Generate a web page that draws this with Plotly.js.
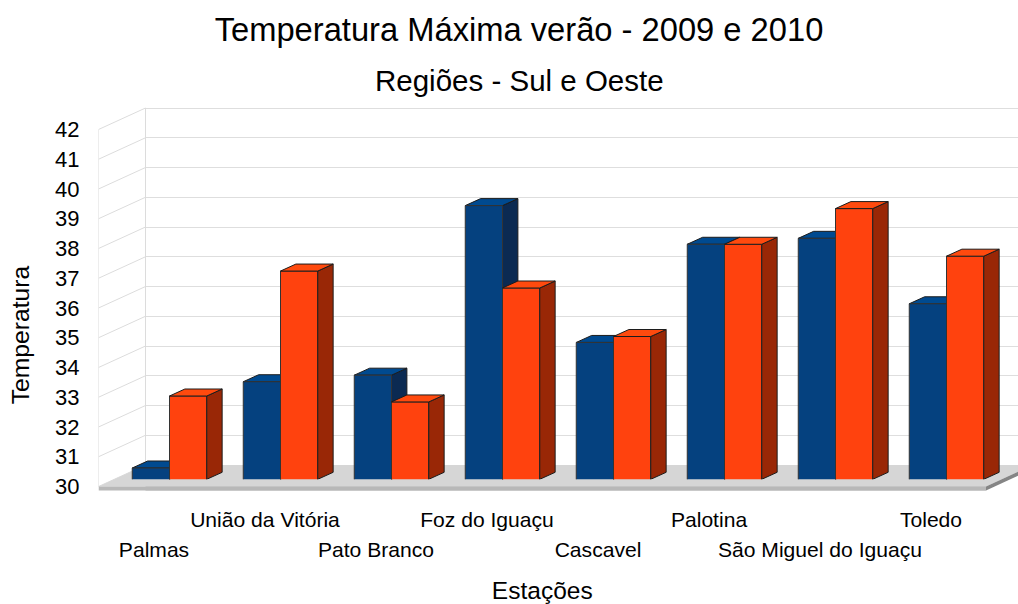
<!DOCTYPE html>
<html><head><meta charset="utf-8">
<script src="https://cdn.plot.ly/plotly-3.0.1.min.js"></script>
<style>html,body{margin:0;padding:0;background:#fff}#c{width:1018px;height:604px}</style>
</head><body><div id="c"></div>
<script>
const categories = ['Palmas','União da Vitória','Pato Branco','Foz do Iguaçu','Cascavel','Palotina','São Miguel do Iguaçu','Toledo'];
const values2009 = [30.38,33.28,33.5,39.2,34.6,37.9,38.1,35.9];
const values2010 = [32.8,37.0,32.6,36.43,34.8,37.9,39.1,37.5];
const yTicks = [30,31,32,33,34,35,36,37,38,39,40,41,42];

const W=1018,H=604;
const pxU=111, pyU=29.75;           // pixels per category / per degree
const fx=v=>v/W, fy=v=>1-v/H;
const idx=categories.map((_,i)=>i);
const lowerRow=idx.filter(i=>i%2===0), upperRow=idx.filter(i=>i%2===1);

// planes of the fake 3D box
const frontL=98.5, front30=486.5, frontR=986;
const backL=145.5, back30=465;
const barL=114, bar30=479.3;
const plotBottom=491, plotTop=100;
const wallDX=(backL-frontL)/pxU, wallDY=(front30-back30)/pyU;
const barW=37.25/pxU, depthX=15.4/pxU, depthY=7/pyU;

const mainXRange=[-0.5,-0.5+(frontR-frontL)/pxU];
const mainYRange=[30-(plotBottom-front30)/pyU,30+(front30-plotTop)/pyU];
const backXRange=[-0.5+wallDX,-0.5+wallDX+(W-backL)/pxU];
const backYRange=[30-(plotBottom-back30)/pyU,30+(back30-plotTop)/pyU];
const barXRange=[-0.5,-0.5+(W-barL)/pxU];
const barYRange=[30,30+(bar30-plotTop)/pyU];

function faces(vals,shift){
  const tx=[],ty=[],sx=[],sy=[];
  vals.forEach((v,i)=>{
    const xl=i+shift-barW/2,xr=i+shift+barW/2;
    tx.push(xl,xr,xr+depthX,xl+depthX,xl,null);
    ty.push(v,v,v+depthY,v+depthY,v,null);
    sx.push(xr,xr+depthX,xr+depthX,xr,xr,null);
    sy.push(30,30+depthY,v+depthY,v,30,null);
  });
  return {tx,ty,sx,sy};
}
const blue=faces(values2009,-barW/2), orange=faces(values2010,barW/2);
const edge={color:'#1c1c1c',width:1};
const poly=(x,y,fill,xa,ya,line)=>({type:'scatter',mode:'lines',x,y,fill:'toself',fillcolor:fill,
  line:line||edge,xaxis:xa,yaxis:ya,hoverinfo:'skip',showlegend:false});

// floor slab (the x2/y2 copies sit on the back-wall axes, whose 30 is wallDY higher)
const rEnd=mainXRange[1];
const floorTopX=[-0.5,-0.5+wallDX,rEnd+wallDX,rEnd,-0.5], floorTopY=[30,30+wallDY,30+wallDY,30,30];
const stripX=[-0.5,rEnd,rEnd,-0.5,-0.5];
const stripY=[30,30,30-4/pyU,30-4/pyU,30];
const sideX=[rEnd,rEnd+wallDX,rEnd+wallDX,rEnd,rEnd];
const sideY=[30,30+wallDY,30-4/pyU+wallDY,30-4/pyU,30];
const toBack=a=>a.map(v=>v-wallDY);
const noLine={color:'rgba(0,0,0,0)',width:0};

// left wall lines, from the y ticks
const wallX=[],wallY=[];
yTicks.forEach(t=>{wallX.push(-0.5,-0.5+wallDX,null);wallY.push(t,t+wallDY,null);});
wallX.push(-0.5,-0.5,null,-0.5+wallDX,-0.5+wallDX);
wallY.push(30,42,null,30+wallDY,42+wallDY);

const data=[
  {type:'scatter',mode:'lines',x:wallX,y:wallY,line:{color:'#dcdcdc',width:1},hoverinfo:'skip',showlegend:false},
  poly(floorTopX,floorTopY,'#d6d6d6','x','y',noLine),
  poly(stripX,stripY,'#b8b8b8','x','y',noLine),
  {type:'scatter',mode:'lines',x:[null],y:[null],yaxis:'y5',hoverinfo:'skip',showlegend:false},
  poly(floorTopX,toBack(floorTopY),'#d6d6d6','x2','y2',noLine),
  poly(stripX,toBack(stripY),'#b8b8b8','x2','y2',noLine),
  poly(sideX,toBack(sideY),'#858585','x2','y2',noLine),
  poly(blue.sx,blue.sy,'#0b2a52','x3','y3'),
  poly(blue.tx,blue.ty,'#004a90','x3','y3'),
  {type:'bar',name:'2009',x:idx,y:values2009,marker:{color:'#05417f',line:{color:'#333333',width:1}},xaxis:'x4',yaxis:'y4',hoverinfo:'skip',showlegend:false},
  {type:'bar',name:'2010',x:idx,y:values2010,marker:{color:'#ff420e',line:{color:'#333333',width:1}},xaxis:'x4',yaxis:'y4',hoverinfo:'skip',showlegend:false},
  poly(orange.sx,orange.sy,'#992706','x4','y4'),
  poly(orange.tx,orange.ty,'#ff4a0e','x4','y4')
];

const font='"Liberation Sans", Arial, sans-serif';
const hidden=(o)=>Object.assign({visible:false,fixedrange:true},o);
const layout={
  width:W,height:H,margin:{l:0,r:0,t:0,b:0},autosize:false,showlegend:false,
  paper_bgcolor:'#ffffff',plot_bgcolor:'rgba(0,0,0,0)',
  font:{family:font,color:'#000000',size:21},
  barmode:'group',bargap:1-2*barW,bargroupgap:0,
  title:{text:'Temperatura Máxima verão - 2009 e 2010',font:{family:font,size:32.7,color:'#000'},
         x:519/W,xref:'paper',xanchor:'center',y:1-30/H,yref:'container',yanchor:'middle'},
  annotations:[{text:'Regiões - Sul e Oeste',xref:'paper',yref:'paper',x:519/W,y:1-81/H,xanchor:'center',yanchor:'middle',
    showarrow:false,font:{family:font,size:29.5,color:'#000'}}],
  xaxis:{domain:[fx(frontL),fx(frontR)],range:mainXRange,anchor:'y',showgrid:false,zeroline:false,showline:false,ticks:'',
    tickmode:'array',tickvals:lowerRow,ticktext:lowerRow.map(i=>categories[i]),tickangle:0,tickfont:{size:21.1,color:'#000'},
    ticklabelstandoff:44,automargin:false,
    title:{text:'Estações',font:{size:24.5,color:'#000'},standoff:21}},
  yaxis:{domain:[fy(plotBottom),fy(plotTop)],range:mainYRange,anchor:'x',showgrid:false,zeroline:false,showline:false,ticks:'',
    tickmode:'array',tickvals:yTicks,ticktext:yTicks.map(String),tickfont:{size:22,color:'#000'},ticklabelstandoff:18,ticklabelshift:-1.5,automargin:false},
  yaxis5:{domain:[fy(plotBottom),fy(179)],range:[0,1],anchor:'x',showgrid:false,zeroline:false,showline:false,ticks:'',showticklabels:false,
    automargin:false,title:{text:'Temperatura',font:{size:24.7,color:'#000'},standoff:60}},
  xaxis2:{domain:[fx(backL),1],range:backXRange,anchor:'y2',showgrid:false,zeroline:false,showline:false,ticks:'',
    tickmode:'array',tickvals:upperRow,ticktext:upperRow.map(i=>categories[i]),tickangle:0,tickfont:{size:21.1,color:'#000'},ticklabelstandoff:14,automargin:false},
  yaxis2:{domain:[fy(plotBottom),fy(plotTop)],range:backYRange,anchor:'x2',showgrid:true,gridcolor:'#dedede',gridwidth:1,zeroline:false,showline:false,ticks:'',
    tickmode:'array',tickvals:yTicks,showticklabels:false,automargin:false},
  xaxis3:hidden({domain:[fx(barL),1],range:barXRange,anchor:'y3'}),
  yaxis3:hidden({domain:[fy(bar30),fy(plotTop)],range:barYRange,anchor:'x3'}),
  xaxis4:hidden({domain:[fx(barL),1],range:barXRange,anchor:'y4'}),
  yaxis4:hidden({domain:[fy(bar30),fy(plotTop)],range:barYRange,anchor:'x4'})
};
Plotly.newPlot('c',data,layout,{displayModeBar:false,staticPlot:true});
</script></body></html>
